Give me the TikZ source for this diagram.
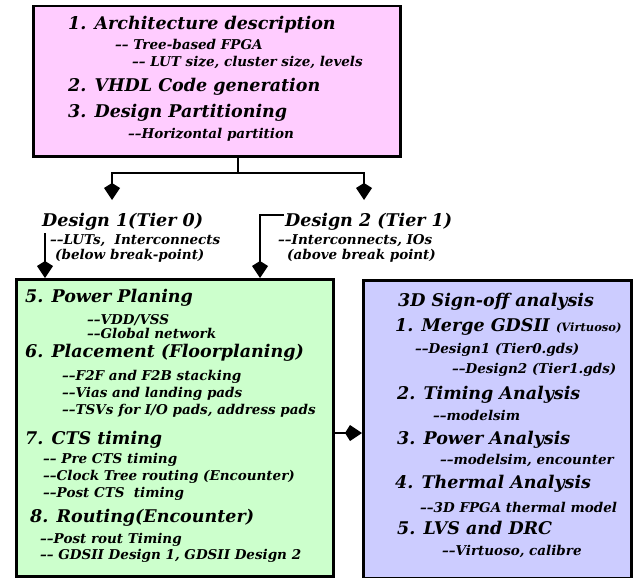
\documentclass[tikz,border=0pt]{standalone}
\usepackage{fontspec}
\setmainfont{DejaVu Serif}
\usetikzlibrary{arrows.meta}

\definecolor{archpink}{RGB}{255,204,255}
\definecolor{flowgreen}{RGB}{204,255,204}
\definecolor{signblue}{RGB}{204,204,255}

\newcommand{\dd}{\textendash\textendash}

\tikzset{
  box/.style={draw, line width=2.5pt, inner sep=0pt, anchor=north west},
  big/.style={anchor=west, inner sep=0pt, font=\bfseries\itshape\fontsize{17.5}{19}\selectfont},
  small/.style={anchor=west, inner sep=0pt, font=\bfseries\itshape\fontsize{13.5}{15}\selectfont},
  wire/.style={line width=2.8pt},
  flow/.style={line width=2.8pt, -{Kite[length=17pt,width=16pt,inset=5pt]}}
}

\begin{document}
\begin{tikzpicture}[x=1pt,y=-1pt]

\useasboundingbox (0,0) rectangle (638,578);

\node[box, fill=archpink, minimum width=367pt, minimum height=150pt] (arch) at (32,5) {};
\node[box, fill=flowgreen, minimum width=317pt, minimum height=297pt] (green) at (15,278) {};
\node[box, fill=signblue, minimum width=268pt, minimum height=298pt] (blue) at (362,279) {};

\node[big] (a1) at (68,25) {1. Architecture description};
\node[small] (a1a) at (115,44) {\dd\ Tree-based FPGA};
\node[small] (a1b) at (132,62) {\dd\ LUT size, cluster size, levels};
\node[big] (a2) at (68,87) {2. VHDL Code generation};
\node[big] (a3) at (68,113) {3. Design Partitioning};
\node[small] (a3a) at (128,135) {\dd Horizontal partition};

\node[big] (des1) at (42,222) {Design 1(Tier 0)};
\node[small] (des1a) at (50,241) {\dd LUTs,\ \ Interconnects};
\node[small] (des1b) at (55,256) {(below break-point)};
\node[big] (des2) at (285,222) {Design 2 (Tier 1)};
\node[small] (des2a) at (278,241) {\dd Interconnects, IOs};
\node[small] (des2b) at (287,256) {(above break point)};

\node[big] (g5) at (25,298) {5. Power Planing};
\node[small] (g5a) at (87,320) {\dd VDD/VSS};
\node[small] (g5b) at (87,333) {\dd Global network};
\node[big] (g6) at (25,353) {6. Placement (Floorplaning)};
\node[small] (g6a) at (62,377) {\dd F2F and F2B stacking};
\node[small] (g6b) at (62,394) {\dd Vias and landing pads};
\node[small] (g6c) at (62,411) {\dd TSVs for I/O pads, address pads};
\node[big] (g7) at (25,440) {7. CTS timing};
\node[small] (g7a) at (43,460) {\dd\ Pre CTS timing};
\node[small] (g7b) at (43,477) {\dd Clock Tree routing (Encounter)};
\node[small] (g7c) at (43,494) {\dd Post CTS\ \ timing};
\node[big] (g8) at (30,518) {8. Routing(Encounter)};
\node[small] (g8a) at (40,540) {\dd Post rout Timing};
\node[small] (g8b) at (40,556) {\dd\ GDSII Design 1, GDSII Design 2};

\node[big] (s0) at (398,302) {3D Sign-off analysis};
\node[big] (s1) at (395,327) {1. Merge GDSII {\fontsize{11.5}{13}\selectfont(Virtuoso)}};
\node[small] (s1a) at (415,350) {\dd Design1 (Tier0.gds)};
\node[small] (s1b) at (452,370) {\dd Design2 (Tier1.gds)};
\node[big] (s2) at (397,395) {2. Timing Analysis};
\node[small] (s2a) at (433,415) {\dd modelsim};
\node[big] (s3) at (397,440) {3. Power Analysis};
\node[small] (s3a) at (440,460) {\dd modelsim, encounter};
\node[big] (s4) at (395,484) {4. Thermal Analysis};
\node[small] (s4a) at (420,507) {\dd 3D FPGA thermal model};
\node[big] (s5) at (397,528) {5. LVS and DRC};
\node[small] (s5a) at (442,551) {\dd Virtuoso, calibre};

\coordinate (split) at (238,173);
\coordinate (t1) at (112,200);
\coordinate (t2) at (364,200);
\draw[wire] (arch.south -| split) -- (split);
\draw[flow] (split) -| (t1);
\draw[flow] (split) -| (t2);

\coordinate (d1top) at (45,233);
\draw[flow] (d1top) -- (d1top |- green.north);
\coordinate (d2start) at (284,215);
\coordinate (d2end) at (260,278);
\draw[flow] (d2start) -| (d2end);

\coordinate (side) at (0,433);
\draw[flow] (green.east |- side) -- (blue.west |- side);

\end{tikzpicture}
\end{document}
